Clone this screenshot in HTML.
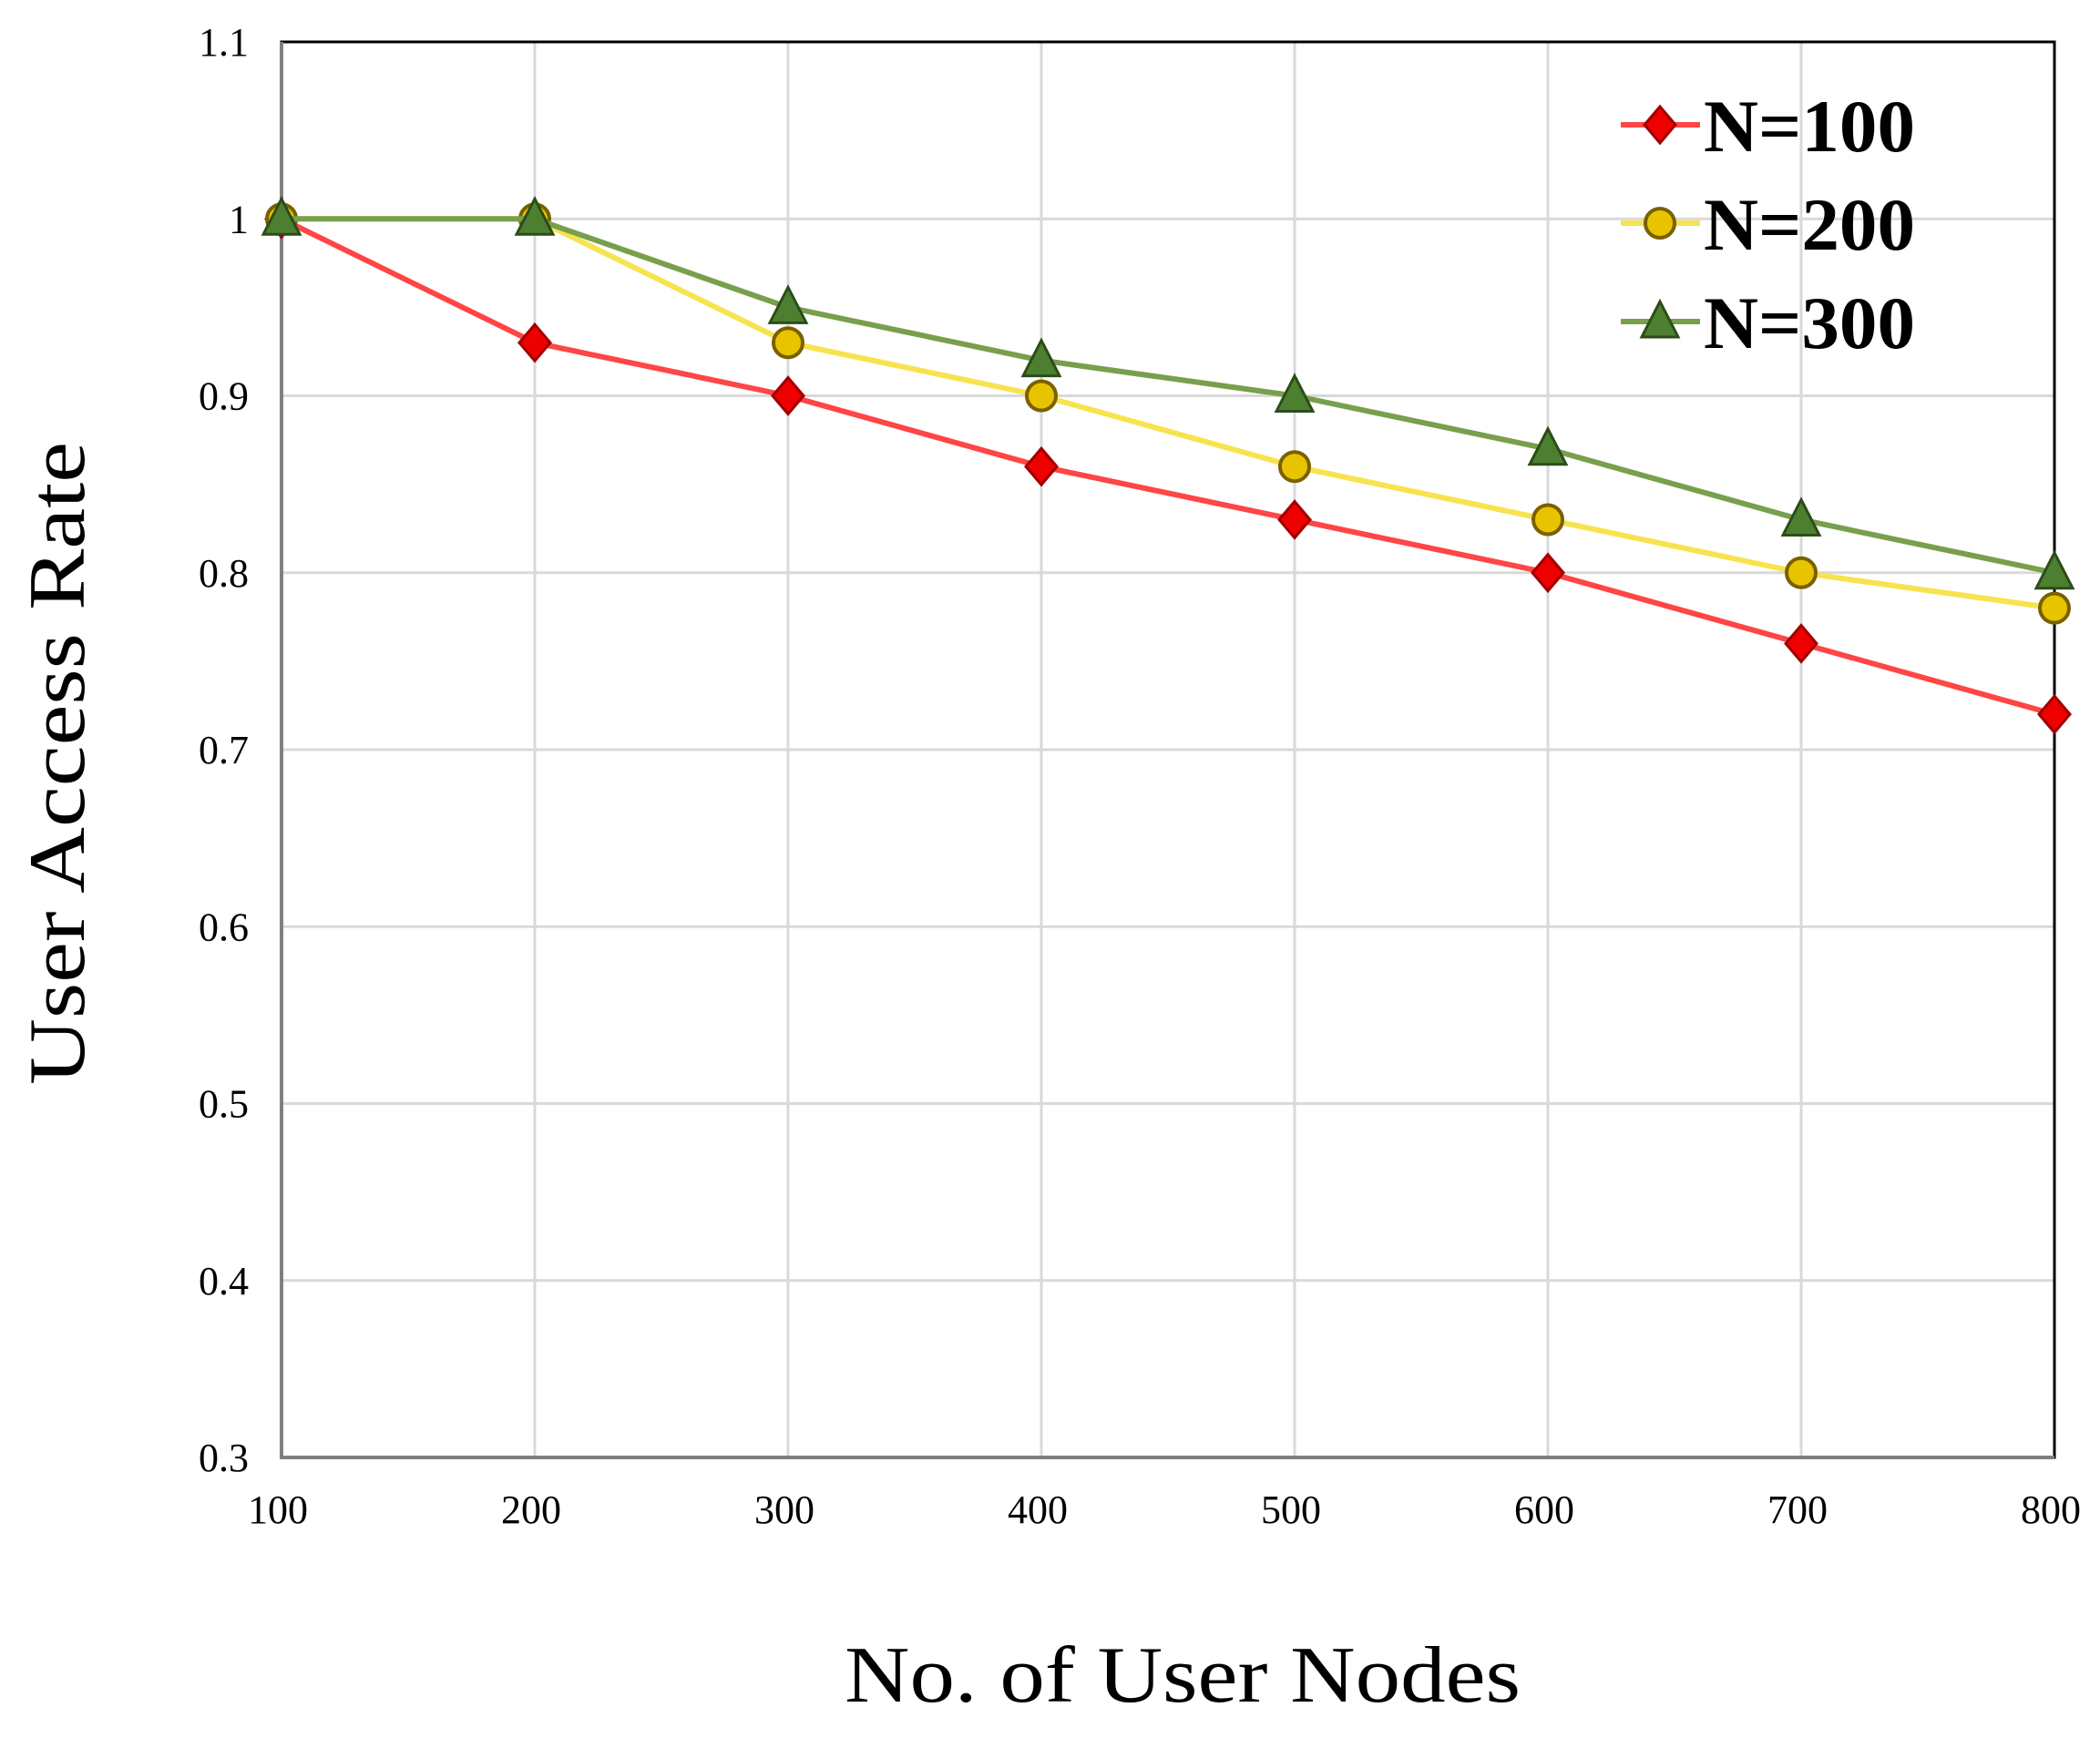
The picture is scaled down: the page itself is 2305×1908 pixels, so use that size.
<!DOCTYPE html>
<html><head><meta charset="utf-8"><style>
html,body{margin:0;padding:0;background:#fff;}
svg{display:block;font-family:"Liberation Serif",serif;}
</style></head><body>
<svg id="chart" width="2305" height="1908" viewBox="0 0 2305 1908" xmlns="http://www.w3.org/2000/svg">
<g id="grid"></g>
<g id="axes"></g>
<g id="series"></g>
<text x="1298" y="1868" font-size="88" text-anchor="middle" textLength="742" lengthAdjust="spacingAndGlyphs">No. of User Nodes</text>
<text transform="translate(92,838) rotate(-90)" font-size="88" text-anchor="middle" textLength="706" lengthAdjust="spacingAndGlyphs">User Access Rate</text>
<g id="legend"></g>
</svg>
<script>
const categories = [100,200,300,400,500,600,700,800];
const yTicks = [0.3,0.4,0.5,0.6,0.7,0.8,0.9,1,1.1];
const yTickLabels = ["0.3","0.4","0.5","0.6","0.7","0.8","0.9","1","1.1"];
const seriesNames = ["N=100","N=200","N=300"];
const n100 = [1,0.93,0.90,0.86,0.83,0.80,0.76,0.72];
const n200 = [1,1,0.93,0.90,0.86,0.83,0.80,0.78];
const n300 = [1,1,0.95,0.92,0.90,0.87,0.83,0.80];

const L=309,R=2255,T=46,B=1600,ymin=0.3,ymax=1.1;
const xs=i=>L+(R-L)*i/(categories.length-1);
const ys=v=>B-(B-T)*(v-ymin)/(ymax-ymin);
const NS="http://www.w3.org/2000/svg";
function mk(tag,attrs,parent){const e=document.createElementNS(NS,tag);for(const k in attrs)e.setAttribute(k,attrs[k]);parent.appendChild(e);return e;}
const grid=document.getElementById('grid'),axes=document.getElementById('axes'),ser=document.getElementById('series'),leg=document.getElementById('legend');
yTicks.forEach((v,i)=>{
  const l=mk('line',{x1:L,x2:R,y1:ys(v),y2:ys(v),stroke:'#d9d9d9','stroke-width':3},grid);
  
  
  const t=mk('text',{x:L-36,y:ys(v)+15,'font-size':44,'text-anchor':'end'},axes);
  t.textContent=yTickLabels[i];
  
  
});
categories.forEach((c,i)=>{
  const l=mk('line',{x1:xs(i),x2:xs(i),y1:T,y2:B,stroke:'#d9d9d9','stroke-width':3},grid);
  
  
  const t=mk('text',{x:xs(i)-4,y:1672,'font-size':44,'text-anchor':'middle'},axes);
  t.textContent=c;
  
  
});
const frame=mk('rect',{x:L,y:T,width:R-L,height:B-T,fill:'none',stroke:'#000','stroke-width':3},axes);


const bl=mk('path',{d:`M${L},${T} V${B} H${R}`,fill:'none',stroke:'#808080','stroke-width':4},axes);



const styles=[
 {line:'#ff4545',fill:'#ee0000',edge:'#a00000',shape:'diamond'},
 {line:'#f7e34f',fill:'#e8c400',edge:'#7a6000',shape:'circle'},
 {line:'#78a04c',fill:'#4c8030',edge:'#2c4c18',shape:'triangle'}];
function marker(shape,x,y,st,parent){
  let e;
  if(shape==='diamond') e=mk('polygon',{points:`${x},${y-20} ${x+17},${y} ${x},${y+20} ${x-17},${y}`,fill:st.fill,stroke:st.edge,'stroke-width':3},parent);
  else if(shape==='circle') e=mk('circle',{cx:x,cy:y,r:16,fill:st.fill,stroke:st.edge,'stroke-width':4},parent);
  else e=mk('polygon',{points:`${x},${y-22} ${x+20},${y+17} ${x-20},${y+17}`,fill:st.fill,stroke:st.edge,'stroke-width':3},parent);
  return e;
}
[n100,n200,n300].forEach((data,s)=>{
  const st=styles[s];
  const g=mk('g',{},ser);
  
  
  const p=mk('polyline',{points:data.map((v,i)=>xs(i)+','+ys(v)).join(' '),fill:'none',stroke:st.line,'stroke-width':6,'stroke-linejoin':'round'},g);
  
  
  data.forEach((v,i)=>{
    const m=marker(st.shape,xs(i),ys(v),st,g);
    
    
  });
  const ly=137+108*s;
  const lg=mk('g',{},leg);
  
  
  mk('line',{x1:1779,x2:1866,y1:ly,y2:ly,stroke:st.line,'stroke-width':6},lg);
  marker(st.shape,1822,ly,st,lg);
  const t=mk('text',{x:1870,y:ly+29,'font-size':82,'font-weight':'bold',textLength:232,lengthAdjust:'spacingAndGlyphs'},lg);
  t.textContent=seriesNames[s];
});
</script>
</body></html>
